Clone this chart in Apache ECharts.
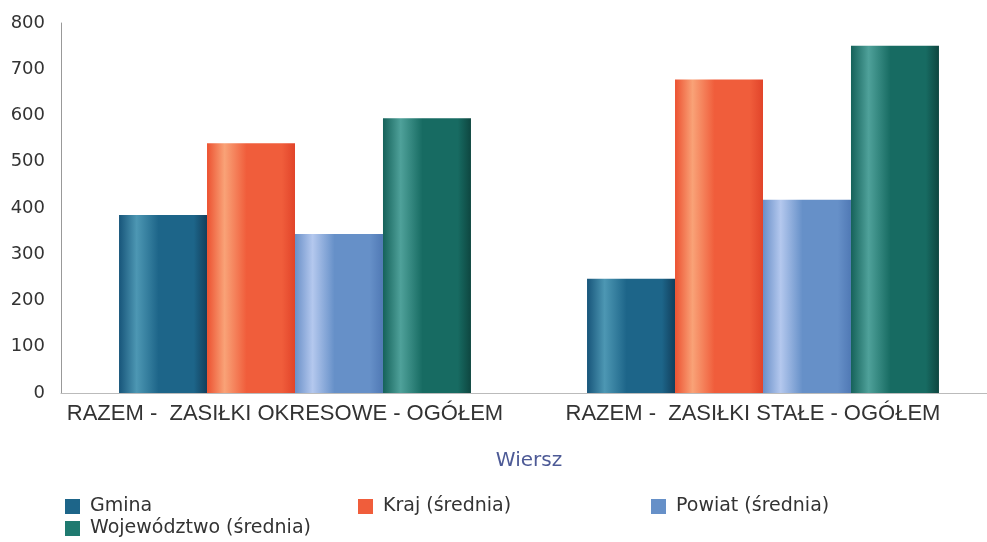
<!DOCTYPE html>
<html><head><meta charset="utf-8">
<script src="https://cdn.jsdelivr.net/npm/echarts@6/dist/echarts.min.js"></script>
<style>html,body{margin:0;padding:0;background:#fff;overflow:hidden}#c{width:997px;height:542px}</style>
</head><body><div id="c"></div>
<script>
const categories = ['RAZEM -  ZASIŁKI OKRESOWE - OGÓŁEM', 'RAZEM -  ZASIŁKI STAŁE - OGÓŁEM'];
const seriesNames = ['Gmina', 'Kraj (średnia)', 'Powiat (średnia)', 'Województwo (średnia)'];
const gmina = [385, 247];
const kraj = [540, 678];
const powiat = [344, 418];
const wojewodztwo = [594, 751];
const yTicks = [0, 100, 200, 300, 400, 500, 600, 700, 800];

function grad(edge, hi, body, dark) {
  return new echarts.graphic.LinearGradient(0, 0, 1, 0, [
    {offset: 0, color: edge},
    {offset: 0.2, color: hi},
    {offset: 0.45, color: body},
    {offset: 0.85, color: body},
    {offset: 1, color: dark}
  ]);
}
const styles = [
  grad('#17557a', '#4d97b3', '#1d6589', '#123f5c'),
  grad('#ec5231', '#f9a277', '#f05d3b', '#e1442a'),
  grad('#6a90c8', '#b4c8ee', '#6690c8', '#5079b5'),
  grad('#15625a', '#4fa19a', '#176b62', '#0e4640')
];
const legendColors = ['#1d6589', '#f05d3b', '#6690c8', '#1f7a70'];
const values = [gmina, kraj, powiat, wojewodztwo];
const FONT = 'DejaVu Sans, Verdana, sans-serif';

const chart = echarts.init(document.getElementById('c'));
chart.setOption({
  animation: false,
  grid: {left: 61, right: 0, top: 23, bottom: 149},
  legend: {
    left: 65, top: 497, width: 900, padding: 0,
    itemWidth: 15, itemHeight: 15, itemGap: 3,
    icon: 'rect',
    textStyle: {fontFamily: FONT, fontSize: 19, color: '#333', width: 265, lineHeight: 15, padding: [0,0,0,5]},
    data: seriesNames.map((n, i) => ({name: n, itemStyle: {color: legendColors[i]}}))
  },
  xAxis: {
    type: 'category', data: categories,
    name: 'Wiersz', nameLocation: 'middle', nameGap: 58,
    nameTextStyle: {fontFamily: FONT, fontSize: 20, color: '#4d5a96'},
    axisLine: {lineStyle: {color: '#bbb', width: 1}},
    axisTick: {show: false},
    axisLabel: {interval: 0, fontFamily: 'Liberation Sans, Arial, sans-serif', fontSize: 22, color: '#333', margin: 10, padding: [0, 20, 0, 0]}
  },
  yAxis: {
    type: 'value', min: yTicks[0], max: yTicks[yTicks.length - 1], interval: 100,
    axisLine: {show: true, lineStyle: {color: '#999'}},
    axisTick: {show: false},
    splitLine: {show: false},
    axisLabel: {fontFamily: FONT, fontSize: 18, color: '#333', margin: 16}
  },
  series: seriesNames.map((n, i) => ({
    name: n, type: 'bar', data: values[i],
    barGap: '0%', barCategoryGap: '24.8%',
    itemStyle: {color: styles[i]}
  }))
});
</script></body></html>
